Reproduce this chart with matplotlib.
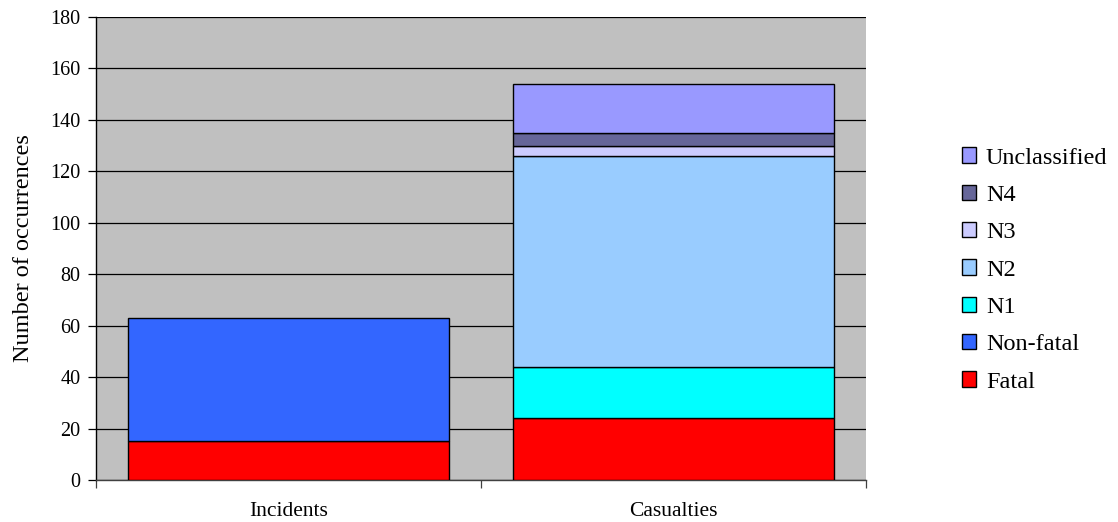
import matplotlib
matplotlib.use("Agg")
import matplotlib.pyplot as plt
from matplotlib.patches import Patch
import numpy as np

categories = ["Incidents", "Casualties"]
series_names = ["Fatal", "Non-fatal", "N1", "N2", "N3", "N4", "Unclassified"]
fatal = [15, 24]
non_fatal = [48, 0]
n1 = [0, 20]
n2 = [0, 82]
n3 = [0, 4]
n4 = [0, 5]
unclassified = [0, 19]
y_ticks = list(range(0, 181, 20))

series_values = [fatal, non_fatal, n1, n2, n3, n4, unclassified]
colors = ["#FF0000", "#3366FF", "#00FFFF", "#99CCFF", "#CCCCFF", "#666699", "#9999FF"]

plt.rcParams["font.family"] = ["Liberation Serif", "DejaVu Serif"]

fig = plt.figure(figsize=(11.18, 5.22), dpi=100)
ax = fig.add_axes([96 / 1118, 1 - 480 / 522, 770 / 1118, 463 / 522])
ax.set_facecolor("#C0C0C0")

x = np.arange(len(categories))
bottom = np.zeros(len(categories))
for vals, col in zip(series_values, colors):
    vals = np.array(vals, dtype=float)
    idx = vals > 0
    ax.bar(x[idx], vals[idx], width=0.834, bottom=bottom[idx], color=col,
           edgecolor="black", linewidth=1.0, zorder=3)
    bottom += vals

ax.set_xlim(-0.5, 1.5)
ax.set_ylim(0, 180)
ax.set_yticks(y_ticks)
ax.yaxis.grid(True, color="black", linewidth=0.9, zorder=1)
ax.set_axisbelow(True)

ax.set_xticks([-0.5, 0.5, 1.5])
ax.set_xticklabels([])
ax.set_xticks(x, minor=True)
ax.set_xticklabels(categories, minor=True, fontsize=15.5)
ax.tick_params(axis="x", which="minor", length=0, pad=16)
ax.tick_params(axis="x", which="major", length=6, width=0.9, color="#404040")
ax.tick_params(axis="y", length=6, width=0.9, labelsize=14.5, pad=5)

for s in ["top", "right"]:
    ax.spines[s].set_visible(False)
ax.spines["left"].set_linewidth(1.0)
ax.spines["bottom"].set_linewidth(1.0)
ax.spines["bottom"].set_color("#404040")

ax.set_ylabel("Number of occurrences", fontsize=17.5, labelpad=12)

handles = [Patch(facecolor=c, edgecolor="black", linewidth=1.0, label=n)
           for n, c in zip(series_names, colors)]
leg = fig.legend(handles[::-1], series_names[::-1], loc="center left",
                 bbox_to_anchor=(952 / 1118, 1 - 270 / 522), frameon=False,
                 fontsize=17.5, handlelength=0.6, handleheight=0.6,
                 handletextpad=0.4, labelspacing=0.66, borderaxespad=0)

fig.savefig("out.png", dpi=100)
